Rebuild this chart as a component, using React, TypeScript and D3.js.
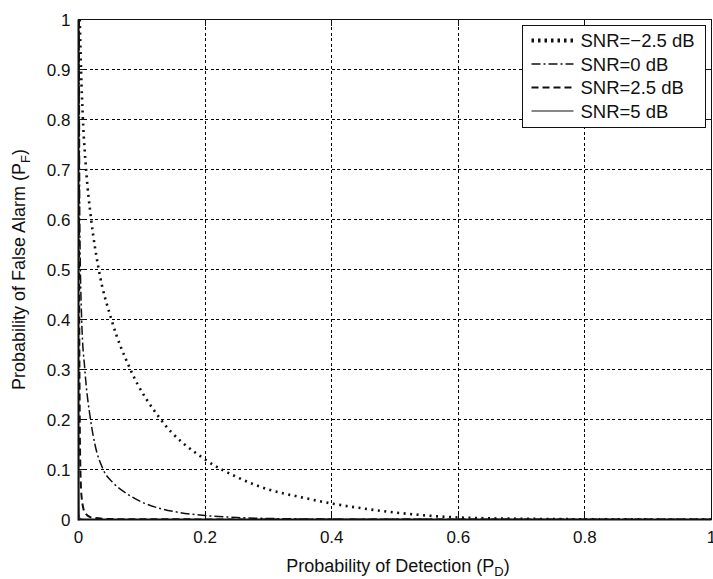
import React, { useEffect, useRef } from "react";
import * as d3 from "d3";

// curves: [P_D, P_F]
const snrMinus25: [number, number][] = [
  [0.002, 1.0], [0.004, 0.9], [0.007, 0.8], [0.012, 0.7], [0.02, 0.6],
  [0.032, 0.5], [0.052, 0.4], [0.082, 0.3], [0.13, 0.2], [0.2, 0.12],
  [0.25, 0.085], [0.3, 0.06], [0.35, 0.045], [0.4, 0.032], [0.45, 0.022],
  [0.5, 0.014], [0.55, 0.008], [0.6, 0.004], [0.7, 0.0015], [0.8, 0.0005], [1.0, 0],
];
const snr0: [number, number][] = [
  [0.001, 1.0], [0.002, 0.6], [0.005, 0.4], [0.01, 0.3], [0.019, 0.2],
  [0.026, 0.15], [0.039, 0.1], [0.055, 0.073], [0.076, 0.052], [0.1, 0.035],
  [0.129, 0.022], [0.16, 0.014], [0.2, 0.008], [0.25, 0.004], [0.3, 0.002],
  [0.4, 0.0008], [0.6, 0.0002], [1.0, 0],
];
const snr25: [number, number][] = [
  [0.0005, 1.0], [0.001, 0.5], [0.002, 0.2], [0.003, 0.1], [0.005, 0.044],
  [0.01, 0.014], [0.02, 0.004], [0.05, 0.001], [0.1, 0.0003], [1.0, 0],
];
const snr5: [number, number][] = [
  [0.0, 1.0], [0.0002, 0.2], [0.0005, 0.05], [0.001, 0.01], [0.003, 0.001],
  [0.01, 0], [1.0, 0],
];

const legendLabels = ["SNR=\u22122.5 dB", "SNR=0 dB", "SNR=2.5 dB", "SNR=5 dB"];
const xTicks = [0, 0.2, 0.4, 0.6, 0.8, 1];
const yTicks = [0, 0.1, 0.2, 0.3, 0.4, 0.5, 0.6, 0.7, 0.8, 0.9, 1];

const width = 713;
const height = 579;
const margin = { top: 19.5, right: 1.5, bottom: 59.5, left: 78.5 };

const styles = [
  { dash: "2,4.5", w: 2.6 },
  { dash: "9,3,2,3", w: 1.5 },
  { dash: "7,4", w: 2 },
  { dash: null, w: 1 },
];

function App() {
  const svgRef = useRef<SVGSVGElement>(null);

  useEffect(() => {
    const svg = d3.select(svgRef.current);
    svg.selectAll("*").remove();

    const x = d3.scaleLinear().domain([0, 1]).range([margin.left, width - margin.right]);
    const y = d3.scaleLinear().domain([0, 1]).range([height - margin.bottom, margin.top]);
    const font = "'Liberation Sans', Arial, sans-serif";
    const ink = "#111";
    const px = (v: number) => Math.round(v - 0.5) + 0.5; // crisp 1px lines

    svg.append("defs").append("clipPath").attr("id", "plot")
      .append("rect")
      .attr("x", x(0)).attr("y", y(1))
      .attr("width", x(1) - x(0)).attr("height", y(0) - y(1));

    // grid
    const grid = svg.append("g").attr("stroke", "#000").attr("stroke-width", 1)
      .attr("stroke-dasharray", "3,2.5").attr("shape-rendering", "crispEdges");
    grid.selectAll(".gx").data(xTicks.slice(1, -1)).join("line")
      .attr("x1", d => px(x(d))).attr("x2", d => px(x(d)))
      .attr("y1", y(0)).attr("y2", y(1));
    grid.selectAll(".gy").data(yTicks.slice(1, -1)).join("line")
      .attr("x1", x(0)).attr("x2", x(1))
      .attr("y1", d => px(y(d))).attr("y2", d => px(y(d)));

    // curves
    const line = d3.line<[number, number]>()
      .x(d => x(d[0])).y(d => y(d[1]))
      .curve(d3.curveMonotoneX);
    const series = [snrMinus25, snr0, snr25, snr5];
    const curves = svg.append("g").attr("clip-path", "url(#plot)");
    series.forEach((s, i) => {
      curves.append("path")
        .attr("d", line(s))
        .attr("fill", "none")
        .attr("stroke", ink)
        .attr("stroke-width", styles[i].w)
        .attr("stroke-dasharray", styles[i].dash);
    });

    // box and inside ticks
    svg.append("rect")
      .attr("x", x(0)).attr("y", y(1))
      .attr("width", x(1) - x(0)).attr("height", y(0) - y(1))
      .attr("fill", "none").attr("stroke", ink).attr("stroke-width", 1);
    const ticks = svg.append("g").attr("stroke", ink).attr("stroke-width", 1)
      .attr("shape-rendering", "crispEdges");
    xTicks.forEach(t => {
      ticks.append("line").attr("x1", px(x(t))).attr("x2", px(x(t))).attr("y1", y(0)).attr("y2", y(0) - 6);
      ticks.append("line").attr("x1", px(x(t))).attr("x2", px(x(t))).attr("y1", y(1)).attr("y2", y(1) + 6);
    });
    yTicks.forEach(t => {
      ticks.append("line").attr("x1", x(0)).attr("x2", x(0) + 6).attr("y1", px(y(t))).attr("y2", px(y(t)));
      ticks.append("line").attr("x1", x(1)).attr("x2", x(1) - 6).attr("y1", px(y(t))).attr("y2", px(y(t)));
    });
    svg.append("line").attr("x1", x(0)).attr("x2", x(0)).attr("y1", y(0) + 1).attr("y2", y(1))
      .attr("stroke", ink).attr("stroke-width", 2);
    svg.append("line").attr("x1", x(0)).attr("x2", x(1)).attr("y1", y(0)).attr("y2", y(0))
      .attr("stroke", ink).attr("stroke-width", 2);

    // tick labels
    const fmt = (d: number) => (d === 0 || d === 1 ? String(d) : d.toFixed(1));
    svg.append("g").selectAll("text").data(xTicks).join("text")
      .attr("x", d => x(d)).attr("y", y(0) + 23)
      .attr("text-anchor", "middle")
      .attr("font-family", font).attr("font-size", 17).attr("fill", ink)
      .text(fmt);
    svg.append("g").selectAll("text").data(yTicks).join("text")
      .attr("x", x(0) - 8).attr("y", d => y(d)).attr("dy", "0.36em")
      .attr("text-anchor", "end")
      .attr("font-family", font).attr("font-size", 17).attr("fill", ink)
      .text(fmt);

    // axis titles
    const xt = svg.append("text")
      .attr("x", 398).attr("y", 572)
      .attr("text-anchor", "middle")
      .attr("font-family", font).attr("font-size", 18).attr("fill", ink);
    xt.append("tspan").text("Probability of Detection (P");
    xt.append("tspan").attr("font-size", 13).attr("dy", 4).text("D");
    xt.append("tspan").attr("dy", -4).text(")");

    const yt = svg.append("text")
      .attr("transform", `translate(25,${(y(0) + y(1)) / 2}) rotate(-90)`)
      .attr("text-anchor", "middle")
      .attr("font-family", font).attr("font-size", 18).attr("fill", ink);
    yt.append("tspan").text("Probability of False Alarm (P");
    yt.append("tspan").attr("font-size", 13).attr("dy", 5).text("F");
    yt.append("tspan").attr("dy", -5).text(")");

    // legend
    const lg = svg.append("g").attr("transform", "translate(522.5,25.5)");
    lg.append("rect").attr("width", 183).attr("height", 102)
      .attr("fill", "white").attr("stroke", ink).attr("stroke-width", 1);
    legendLabels.forEach((lab, i) => {
      const ly = 15 + i * 23.5;
      lg.append("line").attr("x1", 9).attr("x2", 51).attr("y1", ly).attr("y2", ly)
        .attr("stroke", ink).attr("stroke-width", i === 0 ? 4 : styles[i].w)
        .attr("stroke-dasharray", i === 0 ? "2.5,4" : styles[i].dash);
      lg.append("text").attr("x", 58).attr("y", ly).attr("dy", "0.36em")
        .attr("font-family", font).attr("font-size", 18.5).attr("fill", ink)
        .text(lab);
    });
  }, []);

  return (
    <svg ref={svgRef} width={width} height={height}
      style={{ position: "absolute", left: 0, top: 0, background: "white" }} />
  );
}

export default App;
